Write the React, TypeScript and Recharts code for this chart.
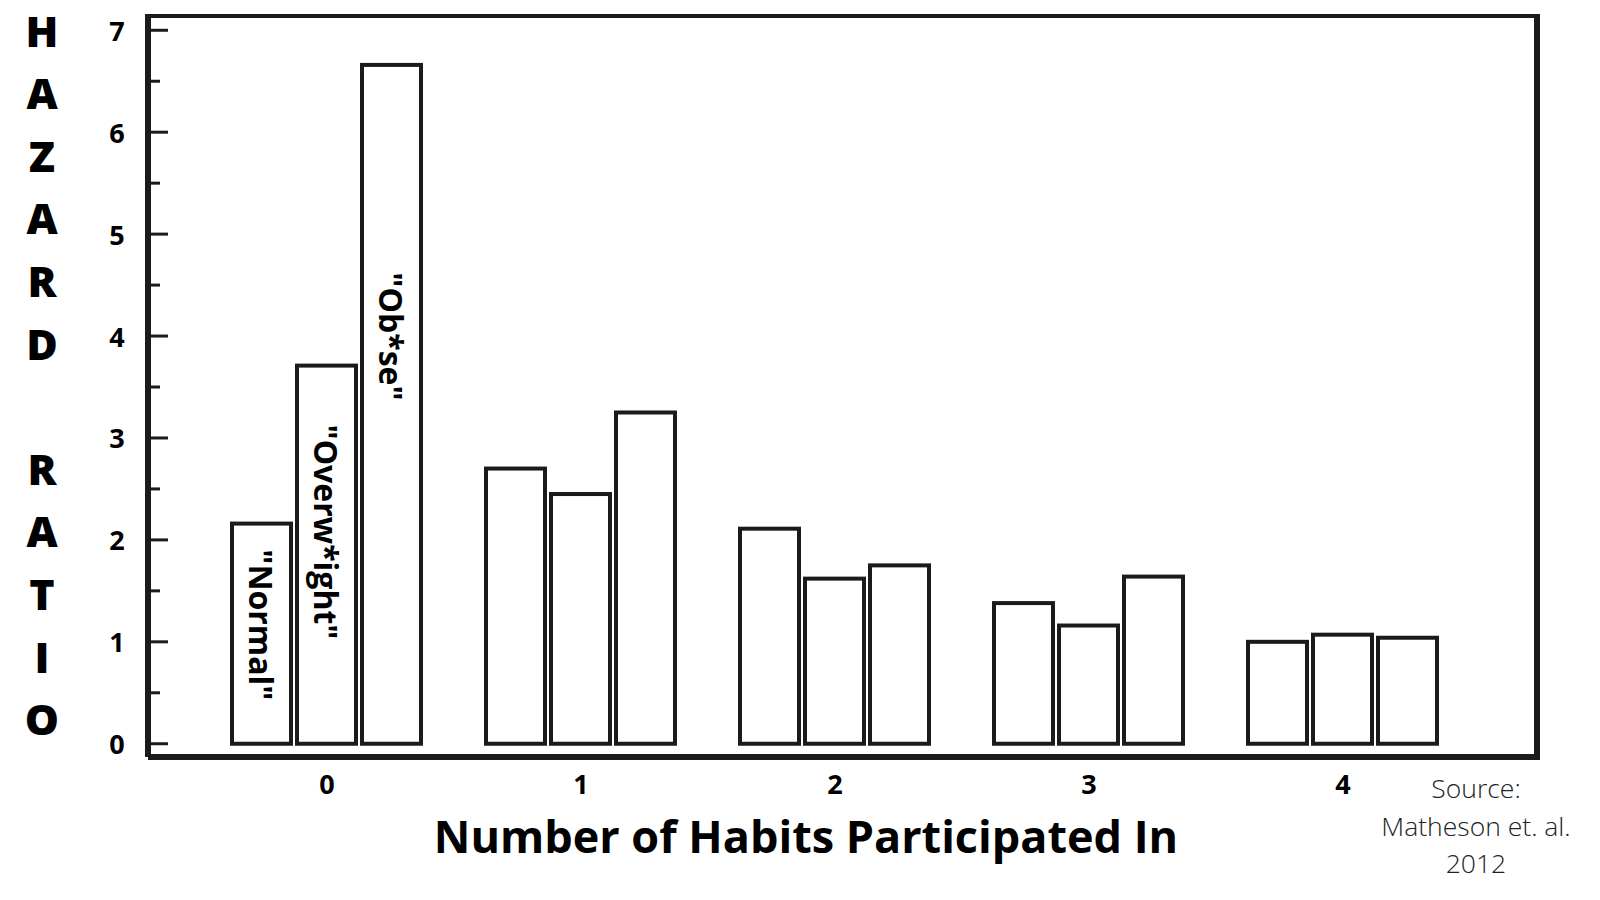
import React from "react";
import { BarChart, Bar, XAxis, YAxis } from "recharts";

const habits = ["0", "1", "2", "3", "4"];
const normal = [2.16, 2.7, 2.11, 1.38, 1.0];
const overweight = [3.71, 2.45, 1.62, 1.16, 1.07];
const obese = [6.66, 3.25, 1.75, 1.64, 1.04];
const seriesLabels = ['"Normal"', '"Overw*ight"', '"Ob*se"'];
const yTicks = [0, 0.5, 1, 1.5, 2, 2.5, 3, 3.5, 4, 4.5, 5, 5.5, 6, 6.5, 7];
const yTitleLetters = ["H", "A", "Z", "A", "R", "D", "", "R", "A", "T", "I", "O"];
const xTitle = "Number of Habits Participated In";
const sourceLines = ["Source:", "Matheson et. al.", "2012"];

const data = habits.map((h, i) => ({
  habits: h,
  normal: normal[i],
  overweight: overweight[i],
  obese: obese[i],
}));

const FONT = "'Open Sans', 'Noto Sans', sans-serif";
const PLOT_LEFT = 148;
const PLOT_RIGHT = 1537;
const PLOT_TOP = 16;
const PLOT_BOTTOM = 757;
const INK = "#1b1b1b";

const YTick = (props: any) => {
  const { y, payload } = props;
  const v = payload.value;
  const major = Number.isInteger(v);
  return (
    <g>
      <line x1={PLOT_LEFT} x2={PLOT_LEFT + (major ? 20 : 12)} y1={y} y2={y} stroke={INK} strokeWidth={3} />
      {major && (
        <text x={117} y={y} textAnchor="middle" dominantBaseline="central" fontFamily={FONT} fontWeight={700} fontSize={27} fill="#000">
          {v}
        </text>
      )}
    </g>
  );
};

const XTick = (props: any) => {
  const { x, y, payload } = props;
  return (
    <text x={x} y={y + 26} textAnchor="middle" dominantBaseline="central" fontFamily={FONT} fontWeight={700} fontSize={27} fill="#000">
      {payload.value}
    </text>
  );
};

const makeShape = (seriesIdx: number, frac: number) => (props: any) => {
  const { x, y, width, height, index } = props;
  const cx = x + width / 2;
  const cy = y + height * frac;
  return (
    <g>
      <rect x={x} y={y} width={width} height={height} fill="#fff" stroke={INK} strokeWidth={4} />
      {index === 0 && (
        <text
          x={cx}
          y={cy}
          textAnchor="middle"
          dominantBaseline="central"
          transform={`rotate(90, ${cx}, ${cy})`}
          fontFamily={FONT}
          fontWeight={700}
          fontSize={32}
          fill="#000"
        >
          {seriesLabels[seriesIdx]}
        </text>
      )}
    </g>
  );
};

export default function App() {
  return (
    <div style={{ position: "absolute", left: 0, top: 0, width: 1600, height: 900, background: "#fff" }}>
      <BarChart
        width={1600}
        height={900}
        data={data}
        margin={{ top: PLOT_TOP, right: 1600 - PLOT_RIGHT, bottom: 900 - PLOT_BOTTOM - 60, left: 0 }}
        barCategoryGap={32}
        barGap={6}
      >
        <XAxis
          dataKey="habits"
          height={60}
          padding={{ left: 52, right: 67 }}
          tickLine={false}
          tickSize={0}
          tickMargin={0}
          tick={<XTick />}
          axisLine={{ stroke: INK, strokeWidth: 6 }}
        />
        <YAxis
          type="number"
          width={PLOT_LEFT}
          domain={[-0.13, 7.14]}
          allowDataOverflow
          ticks={yTicks}
          interval={0}
          tickLine={false}
          tick={<YTick />}
          axisLine={{ stroke: INK, strokeWidth: 6 }}
        />
        <Bar dataKey="normal" isAnimationActive={false} shape={makeShape(0, 0.46)} />
        <Bar dataKey="overweight" isAnimationActive={false} shape={makeShape(1, 0.44)} />
        <Bar dataKey="obese" isAnimationActive={false} shape={makeShape(2, 0.4)} />
      </BarChart>
      <svg width={1600} height={900} style={{ position: "absolute", left: 0, top: 0, pointerEvents: "none" }}>
        <line x1={PLOT_LEFT - 3} x2={PLOT_RIGHT + 3} y1={PLOT_TOP} y2={PLOT_TOP} stroke={INK} strokeWidth={4} />
        <line x1={PLOT_RIGHT} x2={PLOT_RIGHT} y1={PLOT_TOP - 2} y2={PLOT_BOTTOM + 3} stroke={INK} strokeWidth={6} />
        {yTitleLetters.map((l, i) => (
          <text key={i} x={42} y={30 + 62.6 * i} textAnchor="middle" dominantBaseline="central" fontFamily={FONT} fontWeight={800} fontSize={43} fill="#000">
            {l}
          </text>
        ))}
        <text x={806} y={853} textAnchor="middle" fontFamily={FONT} fontWeight={700} fontSize={45} fill="#000">
          {xTitle}
        </text>
        {sourceLines.map((s, i) => (
          <text key={i} x={1476} y={788 + 37.5 * i} textAnchor="middle" dominantBaseline="central" fontFamily={FONT} fontWeight={300} fontSize={26.5} fill="#222">
            {s}
          </text>
        ))}
      </svg>
    </div>
  );
}
